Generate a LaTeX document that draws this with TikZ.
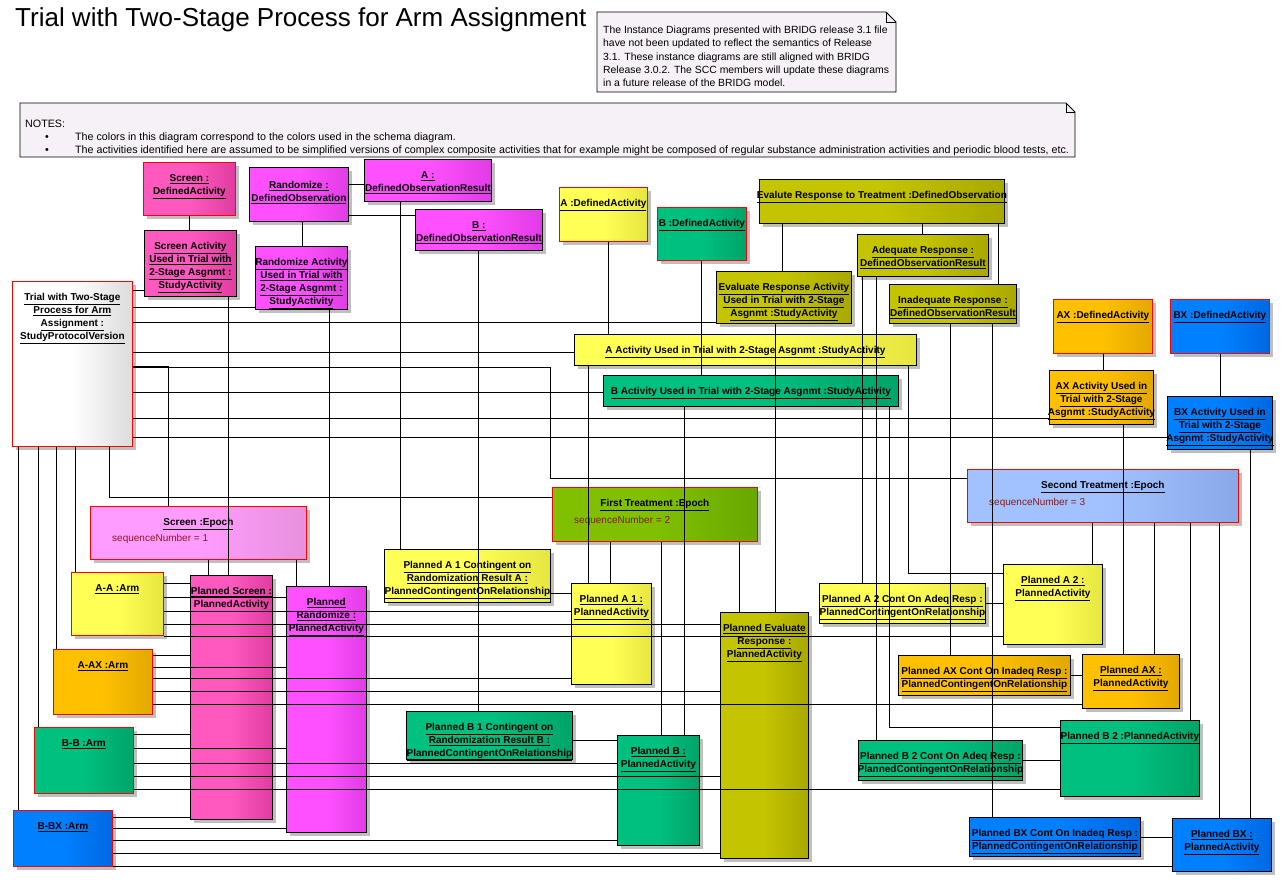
\documentclass[tikz,border=0pt]{standalone}
\usepackage{fontspec}
\setmainfont{Liberation Sans}
\usetikzlibrary{shadows}

\definecolor{scrL}{HTML}{FF58BE}\definecolor{scrR}{HTML}{E03CA0}
\definecolor{magL}{HTML}{FF50FF}\definecolor{magR}{HTML}{E03CE6}
\definecolor{epkL}{HTML}{FF9CFF}\definecolor{epkR}{HTML}{E890DC}
\definecolor{yelL}{HTML}{FFFF55}\definecolor{yelR}{HTML}{E6E640}
\definecolor{grnL}{HTML}{00C080}\definecolor{grnR}{HTML}{00A468}
\definecolor{olvL}{HTML}{C4C400}\definecolor{olvR}{HTML}{A8A800}
\definecolor{orgL}{HTML}{FFC000}\definecolor{orgR}{HTML}{E2A800}
\definecolor{bluL}{HTML}{0080FF}\definecolor{bluR}{HTML}{0068E2}
\definecolor{lbuL}{HTML}{A2C2FF}\definecolor{lbuR}{HTML}{88A8E8}
\definecolor{eggL}{HTML}{80C000}\definecolor{eggR}{HTML}{68A800}
\definecolor{notebg}{HTML}{F6F1F6}
\definecolor{attrred}{HTML}{8A1A1A}

\newcommand\undl[1]{\underline{#1}}

\begin{document}
\begin{tikzpicture}[x=1pt, y=-1pt,
  obj/.style={draw=black, line width=0.8pt, inner sep=0pt, anchor=north west,
    general shadow={fill=black!25, shadow xshift=4pt, shadow yshift=-4pt}},
  redobj/.style={obj, draw=red},
  ttl/.style={anchor=north, yshift=-12.5pt, align=center, inner sep=0pt,
    font=\fontsize{10}{13}\selectfont\bfseries},
  attr/.style={anchor=west, inner sep=0pt, text=attrred,
    font=\fontsize{10}{13}\selectfont},
  link/.style={draw=black, line width=0.8pt},
  grad/.style 2 args={left color=#1, right color=#2, middle color=#1},
  scr/.style={grad={scrL}{scrR}},
  mag/.style={grad={magL}{magR}},
  epk/.style={grad={epkL}{epkR}},
  yel/.style={grad={yelL}{yelR}},
  grn/.style={grad={grnL}{grnR}},
  olv/.style={grad={olvL}{olvR}},
  org/.style={grad={orgL}{orgR}},
  blu/.style={grad={bluL}{bluR}},
  lbu/.style={grad={lbuL}{lbuR}},
  egg/.style={grad={eggL}{eggR}},
  gry/.style={grad={white}{black!14}}]

  \fill[white] (0,0) rectangle (1283,882);
  \useasboundingbox (0,0) rectangle (1283,882);

  % title and notes
  \node[anchor=west, inner sep=0pt, font=\fontsize{26}{30}\selectfont] (title)
    at (15,20) {Trial with Two-Stage Process for Arm Assignment};

  \filldraw[fill=notebg, line width=0.8pt]
    (597,12) -- (886,12) -- (896,22) -- (896,92) -- (597,92) -- cycle;
  \draw[line width=0.6pt] (886,12) -- (886,22) -- (896,22);
  \node[anchor=north west, inner sep=0pt, align=left,
        font=\fontsize{10.4}{13.2}\selectfont] (relnote) at (603,26)
    {The Instance Diagrams presented with BRIDG release 3.1 file\\
     have not been updated to reflect the semantics of Release\\
     3.1. These instance diagrams are still aligned with BRIDG\\
     Release 3.0.2. The SCC members will update these diagrams\\
     in a future release of the BRIDG model.};

  \filldraw[fill=notebg, line width=0.8pt]
    (20,103) -- (1066,103) -- (1075,112) -- (1075,157) -- (20,157) -- cycle;
  \draw[line width=0.6pt] (1066,103) -- (1066,112) -- (1075,112);
  \node[anchor=north west, inner sep=0pt, align=left,
        font=\fontsize{10.7}{13}\selectfont] (notes) at (25,120)
    {NOTES:\\
     \hspace*{20pt}\makebox[30pt][l]{\textbullet}The colors in this diagram correspond to the colors used in the schema diagram.\\
     \hspace*{20pt}\makebox[30pt][l]{\textbullet}The activities identified here are assumed to be simplified versions of complex composite activities that for example might be composed of regular substance administration activities and periodic blood tests, etc.};

  % defined activities and observations
  \node[redobj, scr, minimum width=92, minimum height=53] (screenDA) at (143,162) {};
  \node[ttl] (screenDA-t) at (screenDA.north) {\undl{Screen :}\\\undl{DefinedActivity}};
  \node[obj, mag, minimum width=99, minimum height=54] (randDO) at (249,167) {};
  \node[ttl, yshift=-2pt] (randDO-t) at (randDO.north) {\undl{Randomize :}\\\undl{DefinedObservation}};
  \node[obj, mag, minimum width=127, minimum height=42] (aDOR) at (364,159) {};
  \node[ttl] (aDOR-t) at (aDOR.north) {\undl{A :}\\\undl{DefinedObservationResult}};
  \node[obj, mag, minimum width=127, minimum height=41] (bDOR) at (415,209) {};
  \node[ttl] (bDOR-t) at (bDOR.north) {\undl{B :}\\\undl{DefinedObservationResult}};
  \node[redobj, yel, minimum width=88, minimum height=54] (aDA) at (559,187) {};
  \node[ttl] (aDA-t) at (aDA.north) {\undl{A :DefinedActivity}};
  \node[redobj, grn, minimum width=89, minimum height=53] (bDA) at (657,207) {};
  \node[ttl] (bDA-t) at (bDA.north) {\undl{B :DefinedActivity}};
  \node[obj, olv, minimum width=245, minimum height=44] (evalDO) at (759,179) {};
  \node[ttl] (evalDO-t) at (evalDO.north) {\undl{Evalute Response to Treatment :DefinedObservation}};
  \node[obj, olv, minimum width=131, minimum height=42] (adeqDOR) at (857,234) {};
  \node[ttl] (adeqDOR-t) at (adeqDOR.north) {\undl{Adequate Response :}\\\undl{DefinedObservationResult}};
  \node[obj, olv, minimum width=127, minimum height=39] (inadDOR) at (889,284) {};
  \node[ttl] (inadDOR-t) at (inadDOR.north) {\undl{Inadequate Response :}\\\undl{DefinedObservationResult}};
  \node[redobj, org, minimum width=99, minimum height=54] (axDA) at (1053,299) {};
  \node[ttl] (axDA-t) at (axDA.north) {\undl{AX :DefinedActivity}};
  \node[redobj, blu, minimum width=99, minimum height=54] (bxDA) at (1170,299) {};
  \node[ttl] (bxDA-t) at (bxDA.north) {\undl{BX :DefinedActivity}};

  % study activities
  \node[obj, scr, minimum width=92, minimum height=66] (screenSA) at (144,230) {};
  \node[ttl] (screenSA-t) at (screenSA.north)
    {\undl{Screen Activity}\\\undl{Used in Trial with}\\\undl{2-Stage Asgnmt :}\\\undl{StudyActivity}};
  \node[obj, mag, minimum width=92, minimum height=63] (randSA) at (255,246) {};
  \node[ttl] (randSA-t) at (randSA.north)
    {\undl{Randomize Activity}\\\undl{Used in Trial with}\\\undl{2-Stage Asgnmt :}\\\undl{StudyActivity}};
  \node[obj, olv, minimum width=135, minimum height=52] (evalSA) at (716,271) {};
  \node[ttl] (evalSA-t) at (evalSA.north)
    {\undl{Evaluate Response Activity}\\\undl{Used in Trial with 2-Stage}\\\undl{Asgnmt :StudyActivity}};
  \node[obj, yel, minimum width=342, minimum height=31] (aSA) at (574,334) {};
  \node[ttl] (aSA-t) at (aSA.north) {\undl{A Activity Used in Trial with 2-Stage Asgnmt :StudyActivity}};
  \node[obj, grn, minimum width=295, minimum height=31] (bSA) at (603,375) {};
  \node[ttl] (bSA-t) at (bSA.north) {\undl{B Activity Used in Trial with 2-Stage Asgnmt :StudyActivity}};
  \node[obj, org, minimum width=104, minimum height=54] (axSA) at (1049,370) {};
  \node[ttl] (axSA-t) at (axSA.north)
    {\undl{AX Activity Used in}\\\undl{Trial with 2-Stage}\\\undl{Asgnmt :StudyActivity}};
  \node[obj, blu, minimum width=105, minimum height=53] (bxSA) at (1167,396) {};
  \node[ttl] (bxSA-t) at (bxSA.north)
    {\undl{BX Activity Used in}\\\undl{Trial with 2-Stage}\\\undl{Asgnmt :StudyActivity}};

  % protocol version, epochs, arms
  \node[redobj, gry, minimum width=120, minimum height=165] (spv) at (12,281) {};
  \node[ttl] (spv-t) at (spv.north)
    {\undl{Trial with Two-Stage}\\\undl{Process for Arm}\\\undl{Assignment :}\\\undl{StudyProtocolVersion}};
  \node[redobj, epk, minimum width=216, minimum height=53] (screenEp) at (90,506) {};
  \node[ttl] (screenEp-t) at (screenEp.north) {\undl{Screen :Epoch}};
  \node[attr] (screenEp-a) at ([xshift=22pt, yshift=-33pt]screenEp.north west) {sequenceNumber = 1};
  \node[redobj, egg, minimum width=205, minimum height=54] (firstEp) at (552,487) {};
  \node[ttl] (firstEp-t) at (firstEp.north) {\undl{First Treatment :Epoch}};
  \node[attr] (firstEp-a) at ([xshift=22pt, yshift=-34pt]firstEp.north west) {sequenceNumber = 2};
  \node[redobj, lbu, minimum width=271, minimum height=53] (secondEp) at (967,469) {};
  \node[ttl] (secondEp-t) at (secondEp.north) {\undl{Second Treatment :Epoch}};
  \node[attr] (secondEp-a) at ([xshift=22pt, yshift=-34pt]secondEp.north west) {sequenceNumber = 3};

  \node[redobj, yel, minimum width=92, minimum height=63] (armAA) at (71,572) {};
  \node[ttl] (armAA-t) at (armAA.north) {\undl{A-A :Arm}};
  \node[redobj, org, minimum width=99, minimum height=65] (armAAX) at (53,649) {};
  \node[ttl] (armAAX-t) at (armAAX.north) {\undl{A-AX :Arm}};
  \node[redobj, grn, minimum width=99, minimum height=66] (armBB) at (34,727) {};
  \node[ttl] (armBB-t) at (armBB.north) {\undl{B-B :Arm}};
  \node[redobj, blu, minimum width=99, minimum height=56] (armBBX) at (13,810) {};
  \node[ttl] (armBBX-t) at (armBBX.north) {\undl{B-BX :Arm}};

  % planned activities
  \node[obj, scr, minimum width=82, minimum height=244] (plScreen) at (190,575) {};
  \node[ttl] (plScreen-t) at (plScreen.north) {\undl{Planned Screen :}\\\undl{PlannedActivity}};
  \node[obj, mag, minimum width=80, minimum height=246] (plRand) at (286,586) {};
  \node[ttl] (plRand-t) at (plRand.north) {\undl{Planned}\\\undl{Randomize :}\\\undl{PlannedActivity}};
  \node[obj, yel, minimum width=166, minimum height=53] (plA1C) at (384,549) {};
  \node[ttl] (plA1C-t) at (plA1C.north)
    {\undl{Planned A 1 Contingent on}\\\undl{Randomization Result A :}\\\undl{PlannedContingentOnRelationship}};
  \node[obj, yel, minimum width=80, minimum height=101] (plA1) at (571,583) {};
  \node[ttl] (plA1-t) at (plA1.north) {\undl{Planned A 1 :}\\\undl{PlannedActivity}};
  \node[obj, olv, minimum width=88, minimum height=246] (plEval) at (720,612) {};
  \node[ttl] (plEval-t) at (plEval.north) {\undl{Planned Evaluate}\\\undl{Response :}\\\undl{PlannedActivity}};
  \node[obj, grn, minimum width=166, minimum height=48] (plB1C) at (406,711) {};
  \node[ttl] (plB1C-t) at (plB1C.north)
    {\undl{Planned B 1 Contingent on}\\\undl{Randomization Result B :}\\\undl{PlannedContingentOnRelationship}};
  \node[obj, grn, minimum width=82, minimum height=110] (plB) at (617,735) {};
  \node[ttl] (plB-t) at (plB.north) {\undl{Planned B :}\\\undl{PlannedActivity}};
  \node[obj, yel, minimum width=166, minimum height=40] (plA2C) at (819,583) {};
  \node[ttl] (plA2C-t) at (plA2C.north)
    {\undl{Planned A 2 Cont On Adeq Resp :}\\\undl{PlannedContingentOnRelationship}};
  \node[obj, yel, minimum width=99, minimum height=80] (plA2) at (1003,564) {};
  \node[ttl] (plA2-t) at (plA2.north) {\undl{Planned A 2 :}\\\undl{PlannedActivity}};
  \node[obj, org, minimum width=172, minimum height=40] (plAXC) at (898,655) {};
  \node[ttl] (plAXC-t) at (plAXC.north)
    {\undl{Planned AX Cont On Inadeq Resp :}\\\undl{PlannedContingentOnRelationship}};
  \node[obj, org, minimum width=97, minimum height=54] (plAX) at (1082,654) {};
  \node[ttl] (plAX-t) at (plAX.north) {\undl{Planned AX :}\\\undl{PlannedActivity}};
  \node[obj, grn, minimum width=164, minimum height=40] (plB2C) at (858,740) {};
  \node[ttl] (plB2C-t) at (plB2C.north)
    {\undl{Planned B 2 Cont On Adeq Resp :}\\\undl{PlannedContingentOnRelationship}};
  \node[obj, grn, minimum width=139, minimum height=76] (plB2) at (1060,720) {};
  \node[ttl] (plB2-t) at (plB2.north) {\undl{Planned B 2 :PlannedActivity}};
  \node[obj, blu, minimum width=171, minimum height=39] (plBXC) at (969,817) {};
  \node[ttl] (plBXC-t) at (plBXC.north)
    {\undl{Planned BX Cont On Inadeq Resp :}\\\undl{PlannedContingentOnRelationship}};
  \node[obj, blu, minimum width=99, minimum height=53] (plBX) at (1172,818) {};
  \node[ttl] (plBX-t) at (plBX.north) {\undl{Planned BX :}\\\undl{PlannedActivity}};

  % links between the top objects
  \draw[link] (screenDA.south -| 189,0) -- (screenSA.north -| 189,0);
  \draw[link] (randDO.south -| 302,0) -- (randSA.north -| 302,0);
  \draw[link] (randDO.east |- 0,184) -- (aDOR.west |- 0,184);
  \draw[link] (randDO.east |- 0,215) -- (bDOR.west |- 0,215);
  \draw[link] (aDOR.south -| 400,0) -- (plA1C.north -| 400,0);
  \draw[link] (bDOR.south -| 478,0) -- (plB1C.north -| 478,0);
  \draw[link] (aDA.south -| 608,0) -- (aSA.north -| 608,0);
  \draw[link] (bDA.south -| 701,0) -- (bSA.north -| 701,0);
  \draw[link] (evalDO.south -| 782,0) -- (evalSA.north -| 782,0);
  \draw[link] (evalDO.south -| 922,0) -- (adeqDOR.north -| 922,0);
  \draw[link] (evalDO.south -| 998,0) -- (inadDOR.north -| 998,0);
  \draw[link] (adeqDOR.south -| 862,0) -- (plA2C.north -| 862,0);
  \draw[link] (adeqDOR.south -| 876,0) -- (plB2C.north -| 876,0);
  \draw[link] (inadDOR.south -| 950,0) -- (plAXC.north -| 950,0);
  \draw[link] (inadDOR.south -| 992,0) -- (plBXC.north -| 992,0);
  \draw[link] (axDA.south -| 1103,0) -- (axSA.north -| 1103,0);
  \draw[link] (bxDA.south -| 1220,0) -- (bxSA.north -| 1220,0);

  % study activities to planned activities
  \draw[link] (screenSA.south -| 228,0) -- (plScreen.north -| 228,0);
  \draw[link] (randSA.south -| 329,0) -- (plRand.north -| 329,0);
  \draw[link] (evalSA.south -| 775,0) -- (plEval.north -| 775,0);
  \draw[link] (aSA.south -| 588,0) -- (plA1.north -| 588,0);
  \draw[link] (aSA.south -| 908,0) |- (plA2.west |- 0,573);
  \draw[link] (bSA.south -| 684,0) -- (plB.north -| 684,0);
  \draw[link] (bSA.south -| 889,0) |- (plB2.west |- 0,727);
  \draw[link] (axSA.south -| 1123,0) -- (plAX.north -| 1123,0);
  \draw[link] (bxSA.south -| 1250,0) -- (plBX.north -| 1250,0);

  % epochs to planned activities
  \draw[link] (screenEp.south -| 208,0) -- (plScreen.north -| 208,0);
  \draw[link] (screenEp.south -| 296,0) -- (plRand.north -| 296,0);
  \draw[link] (firstEp.south -| 610,0) -- (plA1.north -| 610,0);
  \draw[link] (firstEp.south -| 661,0) -- (plB.north -| 661,0);
  \draw[link] (firstEp.south -| 739,0) -- (plEval.north -| 739,0);
  \draw[link] (secondEp.south -| 1092,0) -- (plA2.north -| 1092,0);
  \draw[link] (secondEp.south -| 1154,0) -- (plAX.north -| 1154,0);
  \draw[link] (secondEp.south -| 1190,0) -- (plB2.north -| 1190,0);
  \draw[link] (secondEp.south -| 1219,0) -- (plBX.north -| 1219,0);

  % protocol version links
  \draw[link] (spv.east |- 0,290) -- (screenSA.west |- 0,290);
  \draw[link] (spv.east |- 0,307) -- (randSA.west |- 0,307);
  \draw[link] (spv.east |- 0,322) -- (evalSA.west |- 0,322);
  \draw[link] (spv.east |- 0,352) -- (aSA.west |- 0,352);
  \draw[link] (spv.east |- 0,366) -| (screenEp.north -| 168,0);
  \draw[link] (spv.east |- 0,367) -| (550,478) -- (secondEp.west |- 0,478);
  \draw[link] (spv.east |- 0,392) -- (bSA.west |- 0,392);
  \draw[link] (spv.east |- 0,418) -- (axSA.west |- 0,418);
  \draw[link] (spv.east |- 0,437) -- (bxSA.west |- 0,437);
  \draw[link] (spv.south -| 109,0) |- (firstEp.west |- 0,497);
  \draw[link] (spv.south -| 75,0) -- (armAA.north -| 75,0);
  \draw[link] (spv.south -| 56,0) -- (armAAX.north -| 56,0);
  \draw[link] (spv.south -| 38,0) -- (armBB.north -| 38,0);
  \draw[link] (spv.south -| 18,0) -- (armBBX.north -| 18,0);

  % arms to planned activities
  \draw[link] (armAA.east |- 0,583) -- (plScreen.west |- 0,583);
  \draw[link] (armAA.east |- 0,597) -- (plRand.west |- 0,597);
  \draw[link] (armAA.east |- 0,611) -- (plA1.west |- 0,611);
  \draw[link] (armAA.east |- 0,624) -- (plEval.west |- 0,624);
  \draw[link] (armAA.east |- 0,636) -- (plA2.west |- 0,636);
  \draw[link] (armAAX.east |- 0,655) -- (plScreen.west |- 0,655);
  \draw[link] (armAAX.east |- 0,667) -- (plRand.west |- 0,667);
  \draw[link] (armAAX.east |- 0,678) -- (plA1.west |- 0,678);
  \draw[link] (armAAX.east |- 0,691) -- (plEval.west |- 0,691);
  \draw[link] (armAAX.east |- 0,704) -- (plAX.west |- 0,704);
  \draw[link] (armBB.east |- 0,734) -- (plScreen.west |- 0,734);
  \draw[link] (armBB.east |- 0,748) -- (plRand.west |- 0,748);
  \draw[link] (armBB.east |- 0,763) -- (plB.west |- 0,763);
  \draw[link] (armBB.east |- 0,776) -- (plEval.west |- 0,776);
  \draw[link] (armBB.east |- 0,789) -- (plB2.west |- 0,789);
  \draw[link] (armBBX.east |- 0,817) -- (plScreen.west |- 0,817);
  \draw[link] (armBBX.east |- 0,828) -- (plRand.west |- 0,828);
  \draw[link] (armBBX.east |- 0,840) -- (plB.west |- 0,840);
  \draw[link] (armBBX.east |- 0,853) -- (plEval.west |- 0,853);
  \draw[link] (armBBX.east |- 0,866) -- (plBX.west |- 0,866);

  % contingent relationships
  \draw[link] (plA1C.east |- 0,593) -- (plA1.west |- 0,593);
  \draw[link] (plB1C.east |- 0,740) -- (plB.west |- 0,740);
  \draw[link] (plA2C.east |- 0,603) -- (plA2.west |- 0,603);
  \draw[link] (plAXC.east |- 0,675) -- (plAX.west |- 0,675);
  \draw[link] (plB2C.east |- 0,760) -- (plB2.west |- 0,760);
  \draw[link] (plBXC.east |- 0,837) -- (plBX.west |- 0,837);
\end{tikzpicture}
\end{document}
